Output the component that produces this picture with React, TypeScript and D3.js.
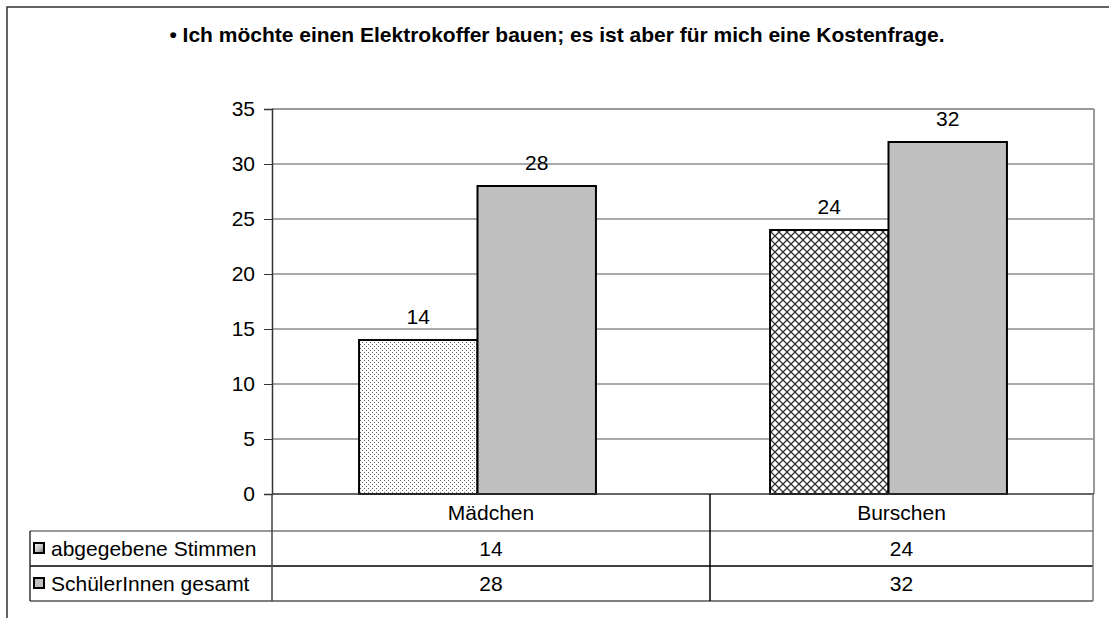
import React, {useEffect, useRef} from 'react';
import * as d3 from 'd3';

const title = '• Ich möchte einen Elektrokoffer bauen; es ist aber für mich eine Kostenfrage.';
const categories = ['Mädchen', 'Burschen'];
const seriesNames = ['abgegebene Stimmen', 'SchülerInnen gesamt'];
const stimmen = [14, 24];
const gesamt = [28, 32];
const yTicks = [0, 5, 10, 15, 20, 25, 30, 35];

const FONT = '"Liberation Sans", Arial, sans-serif';
const FS = 21;

export default function App() {
    const ref = useRef<SVGSVGElement>(null);

    useEffect(() => {
        const svg = d3.select(ref.current);
        svg.selectAll('*').remove();

        const plot = {left: 272, right: 1094, top: 109, bottom: 494};
        const tableCols = [272, 710, 1093];
        const rowH = 36;

        defs(svg);

        // outer frame
        svg.append('path')
            .attr('d', 'M7,640 V7 H1120')
            .attr('fill', 'none')
            .attr('stroke', '#333')
            .attr('stroke-width', 1.5);

        svg.append('text')
            .attr('x', 557).attr('y', 42)
            .attr('text-anchor', 'middle')
            .style('font', `bold ${FS}px ${FONT}`)
            .text(title);

        const x0 = d3.scaleBand().domain(categories).range([plot.left, plot.right]);
        const x1 = d3.scaleBand().domain(seriesNames).range([0, x0.bandwidth()]).paddingInner(0).paddingOuter(0.735);
        const y = d3.scaleLinear().domain([0, 35]).range([plot.bottom, plot.top]);

        // grid
        svg.append('g').selectAll('line').data(yTicks.filter(t => t > 0)).enter().append('line')
            .attr('x1', plot.left).attr('x2', plot.right)
            .attr('y1', d => y(d)).attr('y2', d => y(d))
            .attr('stroke', d => d === 35 ? '#999' : '#555')
            .attr('stroke-width', d => d === 35 ? 2 : 1);

        svg.append('line')
            .attr('x1', plot.right).attr('x2', plot.right)
            .attr('y1', plot.top).attr('y2', plot.bottom)
            .attr('stroke', '#999').attr('stroke-width', 2);

        // y axis
        const yAxis = svg.append('g')
            .attr('transform', `translate(${plot.left},0)`)
            .call(d3.axisLeft(y).tickValues(yTicks).tickSize(8).tickPadding(9));
        yAxis.select('.domain').attr('stroke', '#333').attr('stroke-width', 1.5);
        yAxis.selectAll('.tick line').attr('stroke', '#333');
        yAxis.selectAll('.tick text').style('font', `${FS}px ${FONT}`).attr('fill', '#000');

        // bars
        const patterns = ['url(#dots)', 'url(#cross)'];
        const group = svg.append('g').selectAll('g').data(categories).enter().append('g')
            .attr('transform', d => `translate(${x0(d)},0)`);

        const barData = (c: string, i: number) => [
            {key: seriesNames[0], value: stimmen[i], fill: patterns[i]},
            {key: seriesNames[1], value: gesamt[i], fill: '#c0c0c0'}
        ];

        group.selectAll('rect').data((c, i) => barData(c, i)).enter().append('rect')
            .attr('x', d => x1(d.key)!)
            .attr('width', x1.bandwidth())
            .attr('y', d => y(d.value))
            .attr('height', d => plot.bottom - y(d.value))
            .attr('fill', d => d.fill)
            .attr('stroke', '#000')
            .attr('stroke-width', 2);

        group.selectAll('text').data((c, i) => barData(c, i)).enter().append('text')
            .attr('x', d => x1(d.key)! + x1.bandwidth() / 2)
            .attr('y', d => y(d.value) - 16)
            .attr('text-anchor', 'middle')
            .style('font', `${FS}px ${FONT}`)
            .text(d => d.value);

        // x axis line
        svg.append('line')
            .attr('x1', plot.left).attr('x2', plot.right)
            .attr('y1', plot.bottom).attr('y2', plot.bottom)
            .attr('stroke', '#333').attr('stroke-width', 1.5);

        // data table
        const table = svg.append('g');
        const tableTop = plot.bottom;
        const tableLeft = 30;
        const r1 = tableTop + rowH + 1, r2 = r1 + rowH - 1, r3 = r2 + rowH - 1;

        const hline = (x1v: number, x2v: number, yv: number, c: string) => table.append('line')
            .attr('x1', x1v).attr('x2', x2v).attr('y1', yv).attr('y2', yv)
            .attr('stroke', c).attr('stroke-width', 1.5);
        const vline = (xv: number, y1v: number, y2v: number, c: string) => table.append('line')
            .attr('x1', xv).attr('x2', xv).attr('y1', y1v).attr('y2', y2v)
            .attr('stroke', c).attr('stroke-width', 1.5);

        hline(tableLeft, tableCols[2], r1, '#777');
        hline(tableLeft, tableCols[2], r2, '#000');
        hline(tableLeft, tableCols[2], r3, '#555');
        vline(tableLeft, r1, r3, '#333');
        vline(tableCols[0], plot.bottom, r3, '#444');
        vline(tableCols[1], plot.bottom, r3, '#000');
        vline(tableCols[2], plot.bottom, r3, '#777');

        const colMid = (i: number) => (tableCols[i] + tableCols[i + 1]) / 2;

        categories.forEach((c, i) => {
            table.append('text')
                .attr('x', colMid(i)).attr('y', tableTop + 26)
                .attr('text-anchor', 'middle')
                .style('font', `${FS}px ${FONT}`)
                .text(c);
        });

        [stimmen, gesamt].forEach((vals, r) => {
            const rowTop = r === 0 ? r1 : r2;
            vals.forEach((v, i) => {
                table.append('text')
                    .attr('x', colMid(i)).attr('y', rowTop + 25)
                    .attr('text-anchor', 'middle')
                    .style('font', `${FS}px ${FONT}`)
                    .text(v);
            });
            table.append('rect')
                .attr('x', 34).attr('y', rowTop + 12)
                .attr('width', 10).attr('height', 10)
                .attr('fill', r === 0 ? 'url(#legendMix)' : '#c0c0c0')
                .attr('stroke', '#000').attr('stroke-width', 2);
            table.append('text')
                .attr('x', 51).attr('y', rowTop + 25)
                .style('font', `${FS}px ${FONT}`)
                .text(seriesNames[r]);
        });
    }, []);

    return (
        <svg ref={ref} width="1109" height="618" style={{display: 'block', position: 'absolute', left: 0, top: 0, background: '#fff'}}/>
    );
}

function defs(svg: d3.Selection<SVGSVGElement | null, unknown, null, undefined>) {
    const d = svg.append('defs');

    const dots = d.append('pattern')
        .attr('id', 'dots')
        .attr('patternUnits', 'userSpaceOnUse')
        .attr('width', 4).attr('height', 4);
    dots.append('rect').attr('width', 4).attr('height', 4).attr('fill', '#fff');
    dots.append('rect').attr('x', 0).attr('y', 0).attr('width', 1).attr('height', 1).attr('fill', '#666');
    dots.append('rect').attr('x', 2).attr('y', 2).attr('width', 1).attr('height', 1).attr('fill', '#666');

    const cross = d.append('pattern')
        .attr('id', 'cross')
        .attr('patternUnits', 'userSpaceOnUse')
        .attr('width', 8).attr('height', 8);
    cross.append('rect').attr('width', 8).attr('height', 8).attr('fill', '#fff');
    cross.append('path').attr('d', 'M0,0 L8,8 M8,0 L0,8')
        .attr('stroke', '#333').attr('stroke-width', 1.3);

    const mix = d.append('linearGradient')
        .attr('id', 'legendMix')
        .attr('x1', 0).attr('y1', 0).attr('x2', 1).attr('y2', 1);
    mix.append('stop').attr('offset', '0%').attr('stop-color', '#fff');
    mix.append('stop').attr('offset', '60%').attr('stop-color', '#bbb');
    mix.append('stop').attr('offset', '100%').attr('stop-color', '#666');
}
